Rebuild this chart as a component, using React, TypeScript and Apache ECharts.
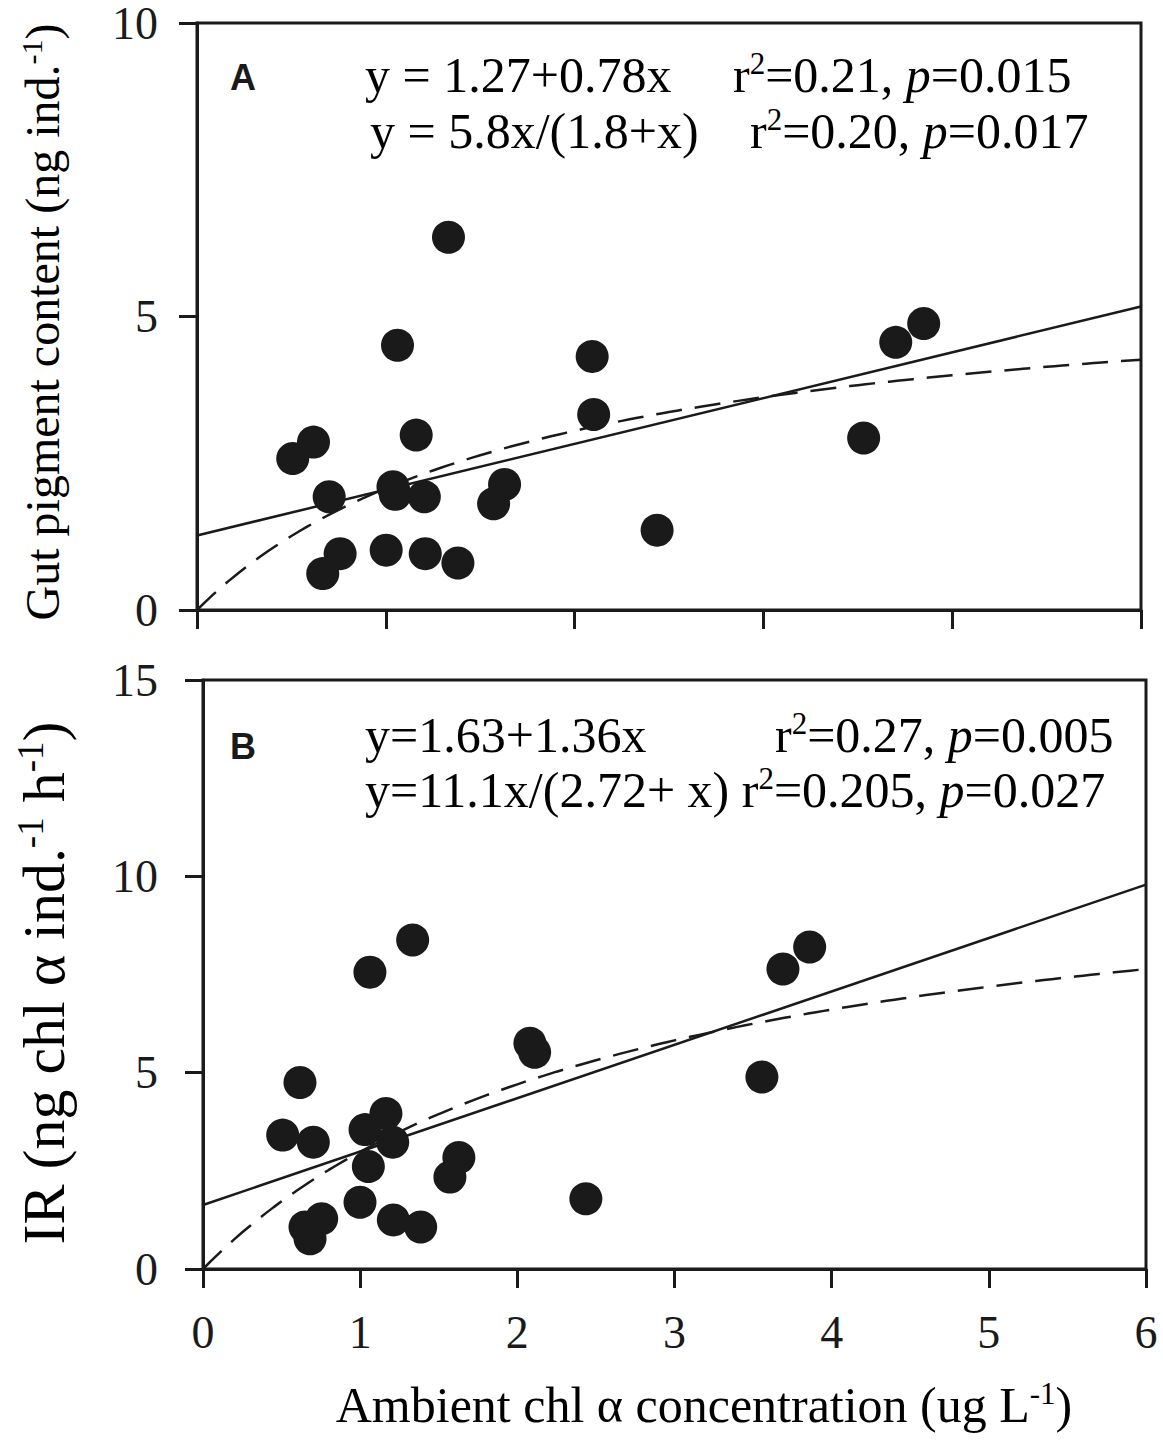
import React, { useEffect, useRef } from "react";
import * as echarts from "echarts";

// ---- data ----
// Panel A: gut pigment content vs ambient chl a
const aChl = [0.507, 0.617, 1.161, 0.7, 1.038, 1.05, 1.204, 1.629, 1.571, 0.758, 0.666, 1.002, 1.209, 1.382, 1.332, 1.062, 2.093, 2.101, 2.437, 3.531, 3.701, 3.849];
const aGut = [2.58, 2.86, 2.98, 1.93, 2.1, 1.97, 1.93, 2.14, 1.81, 0.96, 0.62, 1.02, 0.96, 0.8, 6.35, 4.51, 4.32, 3.33, 1.36, 2.93, 4.56, 4.88];
// Panel B: ingestion rate vs ambient chl a
const bChl = [0.617, 0.507, 0.702, 1.164, 1.031, 1.207, 1.052, 0.999, 1.211, 1.385, 0.755, 0.649, 0.681, 1.628, 1.571, 1.334, 1.062, 2.08, 2.11, 2.436, 3.556, 3.69, 3.86];
const bIR = [4.75, 3.41, 3.23, 3.96, 3.55, 3.23, 2.61, 1.7, 1.25, 1.07, 1.28, 1.07, 0.77, 2.84, 2.34, 8.38, 7.56, 5.75, 5.52, 1.79, 4.89, 7.64, 8.2];

// fitted models printed on the chart
const linA = [1.27, 0.78]; // y = a + b x
const mmA = [5.8, 1.8]; // y = V x / (K + x)
const linB = [1.63, 1.36];
const mmB = [11.1, 2.72];

// axis ranges / ticks
const xMaxA = 5;
const yTicksA = [0, 5, 10];
const yTicksB = [0, 5, 10, 15];
const xTicksB = [0, 1, 2, 3, 4, 5, 6];

const FONT = '"Liberation Serif", "Times New Roman", serif';
const SANS = '"Liberation Sans", Arial, sans-serif';
const INK = "#1a1a1a";

const zip = (xs: number[], ys: number[]) => xs.map((x, i) => [x, ys[i]]);
const linePts = (c: number[], xmax: number) => [
  [0, c[0]],
  [xmax, c[0] + c[1] * xmax],
];
const mmPts = (c: number[], xmax: number) => {
  const pts: number[][] = [];
  const n = 120;
  for (let i = 0; i <= n; i++) {
    const x = (xmax * i) / n;
    pts.push([x, (c[0] * x) / (c[1] + x)]);
  }
  return pts;
};

const makeRich = (fs: number) => ({
  n: { fontFamily: FONT, fontSize: fs, lineHeight: Math.round(fs * 1.08), color: INK },
  i: { fontFamily: FONT, fontSize: fs, lineHeight: Math.round(fs * 1.08), color: INK, fontStyle: "italic" },
  s: { fontFamily: FONT, fontSize: Math.round(fs * 0.62), lineHeight: Math.round(fs * 0.5), color: INK, verticalAlign: "top" },
});

const txt = (x: number, y: number, text: string, fs: number, extra: any = {}) => ({
  type: "text",
  x,
  y,
  ...extra,
  style: {
    text,
    rich: makeRich(fs),
    textVerticalAlign: "middle",
    verticalAlign: "middle",
    ...(extra.style || {}),
  },
});

export default function App() {
  const ref = useRef<HTMLDivElement>(null);
  useEffect(() => {
    if (!ref.current) return;
    const chart = echarts.init(ref.current, undefined, { renderer: "svg" });
    const axisLine = { show: true, lineStyle: { color: INK, width: 3 } };
    const tick = (len: number) => ({ show: true, inside: false, length: len, lineStyle: { color: INK, width: 3 } });
    const yLabel = (margin: number) => ({
      show: true,
      margin,
      formatter: "{t|{value}}",
      rich: { t: { fontFamily: FONT, fontSize: 46, lineHeight: 36, color: INK } },
      color: INK,
    });
    const lineSeries = (xi: number, data: number[][], dashed: boolean) => ({
      type: "line",
      xAxisIndex: xi,
      yAxisIndex: xi,
      data,
      showSymbol: false,
      symbol: "none",
      silent: true,
      z: 3,
      lineStyle: { color: INK, width: 2.5, type: dashed ? [26, 13] : "solid" },
    });
    const scatter = (xi: number, data: number[][]) => ({
      type: "scatter",
      xAxisIndex: xi,
      yAxisIndex: xi,
      data,
      symbol: "circle",
      symbolSize: 33,
      itemStyle: { color: INK, opacity: 1 },
      z: 4,
    });
    const xMaxB = xTicksB[xTicksB.length - 1];
    const option: any = {
      animation: false,
      backgroundColor: "#fff",
      grid: [
        { left: 197, top: 22, width: 944, height: 588, show: true, borderColor: INK, borderWidth: 3 },
        { left: 203, top: 680, width: 943, height: 589, show: true, borderColor: INK, borderWidth: 3 },
      ],
      xAxis: [
        {
          gridIndex: 0,
          type: "value",
          min: 0,
          max: xMaxA,
          interval: 1,
          axisLine,
          axisTick: tick(19),
          axisLabel: { show: false },
          splitLine: { show: false },
        },
        {
          gridIndex: 1,
          type: "value",
          min: xTicksB[0],
          max: xMaxB,
          interval: 1,
          axisLine,
          axisTick: tick(19),
          axisLabel: { show: true, margin: 40, fontFamily: FONT, fontSize: 46, color: INK },
          splitLine: { show: false },
        },
      ],
      yAxis: [
        {
          gridIndex: 0,
          type: "value",
          min: yTicksA[0],
          max: yTicksA[yTicksA.length - 1],
          interval: 5,
          axisLine,
          axisTick: tick(18),
          axisLabel: yLabel(39),
          splitLine: { show: false },
        },
        {
          gridIndex: 1,
          type: "value",
          min: yTicksB[0],
          max: yTicksB[yTicksB.length - 1],
          interval: 5,
          axisLine,
          axisTick: tick(18),
          axisLabel: yLabel(45),
          splitLine: { show: false },
        },
      ],
      series: [
        lineSeries(0, linePts(linA, xMaxA), false),
        lineSeries(0, mmPts(mmA, xMaxA), true),
        scatter(0, zip(aChl, aGut)),
        lineSeries(1, linePts(linB, xMaxB), false),
        lineSeries(1, mmPts(mmB, xMaxB), true),
        scatter(1, zip(bChl, bIR)),
      ],
      graphic: [
        {
          type: "text",
          x: 243,
          y: 77,
          style: { text: "A", font: `bold 36px ${SANS}`, fill: INK, textAlign: "center", textVerticalAlign: "middle", verticalAlign: "middle" },
        },
        {
          type: "text",
          x: 243,
          y: 746,
          style: { text: "B", font: `bold 36px ${SANS}`, fill: INK, textAlign: "center", textVerticalAlign: "middle", verticalAlign: "middle" },
        },
        txt(365, 75, "{n|y = 1.27+0.78x}", 50),
        txt(733, 75, "{n|r}{s|2}{n|=0.21, }{i|p}{n|=0.015}", 50),
        txt(370, 131, "{n|y = 5.8x/(1.8+x)}", 50),
        txt(750, 131, "{n|r}{s|2}{n|=0.20, }{i|p}{n|=0.017}", 50),
        txt(365, 735, "{n|y=1.63+1.36x}", 50),
        txt(775, 735, "{n|r}{s|2}{n|=0.27, }{i|p}{n|=0.005}", 50),
        txt(365, 790, "{n|y=11.1x/(2.72+ x) r}{s|2}{n|=0.205, }{i|p}{n|=0.027}", 50),
        txt(42, 322, "{n|Gut pigment content (ng ind.}{s|-1}{n|)}", 48, {
          rotation: Math.PI / 2,
          style: { textAlign: "center" },
        }),
        txt(44, 983, "{n|IR (ng chl α ind.}{s|-1}{n| h}{s|-1}{n|)}", 60, {
          rotation: Math.PI / 2,
          style: { textAlign: "center" },
        }),
        txt(704, 1405, "{n|Ambient chl α concentration (ug L}{s|-1}{n|)}", 50, {
          style: { textAlign: "center" },
        }),
      ],
    };
    chart.setOption(option);
    return () => chart.dispose();
  }, []);
  return (
    <div
      ref={ref}
      style={{ position: "absolute", left: 0, top: 0, width: 1163, height: 1448, background: "#fff" }}
    />
  );
}
